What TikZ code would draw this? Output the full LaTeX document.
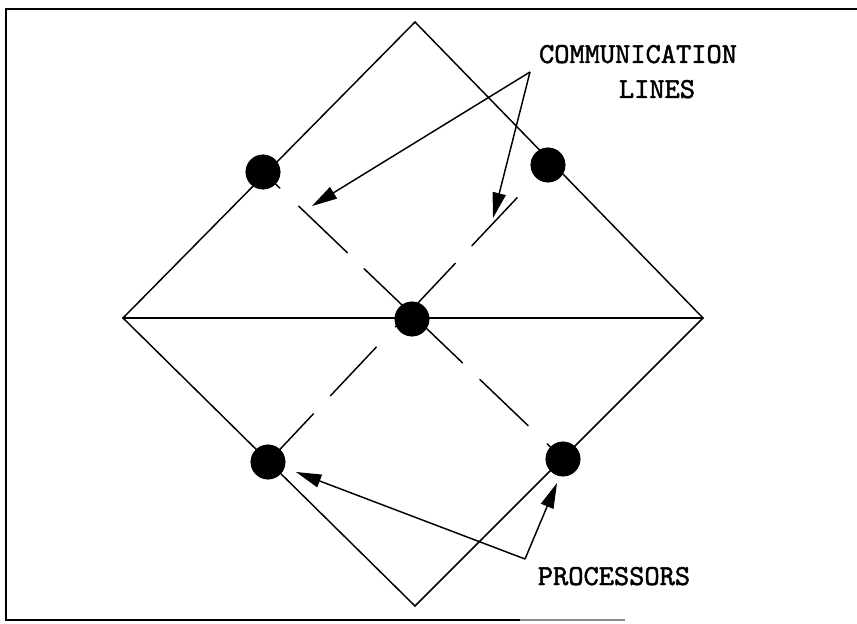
\documentclass[tikz,border=0pt]{standalone}
\usepackage{fontspec}
\newfontfamily\lblfont{lmmono10-regular.otf}[FakeBold=1.6]
\usetikzlibrary{calc,arrows.meta}
\begin{document}
\begin{tikzpicture}[x=0.75pt,y=-0.75pt,
  wire/.style={line width=1.1pt,line cap=round},
  proc/.style={circle,fill=black,draw=none,minimum size=26pt,inner sep=0pt},
  lbl/.style={font=\lblfont\fontsize{21.75}{26}\selectfont,inner sep=0pt,anchor=base},
  ptr/.style={line width=1.1pt,-{Triangle[length=19pt,width=10pt]}}]
\useasboundingbox (0,0) rectangle (857,624);
% frame
\draw[line width=1pt] (857,9) -- (6,9) -- (6,620) -- (520,620);
\draw[line width=1pt,black!45] (520,620) -- (625,620);
% diamond corners
\coordinate (T) at (415,22);
\coordinate (L) at (123,318);
\coordinate (R) at (703,318);
\coordinate (B) at (415,606);
\draw[wire] (L) -- (T) -- (R) -- (B) -- cycle;
\draw[wire] (L) -- (R);
% processors
\node[proc] (ul) at (263,172) {};
\node[proc] (ur) at (548,165) {};
\node[proc] (c)  at (412,319) {};
\node[proc] (ll) at (268,462) {};
\node[proc] (lr) at (563,459) {};
% broken communication lines UL-LR
\draw[wire] ($(ul)!0!(lr)$) -- ($(ul)!0.056!(lr)$);
\draw[wire] ($(ul)!0.119!(lr)$) -- ($(ul)!0.281!(lr)$);
\draw[wire] ($(ul)!0.337!(lr)$) -- ($(ul)!0.665!(lr)$);
\draw[wire] ($(ul)!0.723!(lr)$) -- ($(ul)!0.884!(lr)$);
\draw[wire] ($(ul)!0.947!(lr)$) -- ($(ul)!1!(lr)$);
% broken communication lines UR-LL
\draw[wire] ($(ur)!0.11!(ll)$) -- ($(ur)!0.272!(ll)$);
\draw[wire] ($(ur)!0.331!(ll)$) -- ($(ur)!0.545!(ll)$);
\draw[wire] ($(ur)!0.613!(ll)$) -- ($(ur)!0.777!(ll)$);
\draw[wire] ($(ur)!0.838!(ll)$) -- ($(ur)!1!(ll)$);
% redraw discs on top
\foreach \n in {ul,ur,c,ll,lr} \fill (\n) circle (13pt);
% labels
\node[lbl] (comm) at (638,63) {COMMUNICATION};
\node[lbl] (lines) at (657,98) {LINES};
\node[lbl] (procs) at (614,585) {PROCESSORS};
% pointers
\coordinate (ca) at (530,72);
\coordinate (t1) at (312,206);
\coordinate (t2) at (493,218);
\draw[ptr] (ca) -- (t1);
\draw[ptr] (ca) -- (t2);
\coordinate (pa) at (525,559);
\coordinate (t3) at (296,472);
\coordinate (t4) at (557,483);
\draw[ptr] (pa) -- (t3);
\draw[ptr] (pa) -- (t4);
\end{tikzpicture}
\end{document}
